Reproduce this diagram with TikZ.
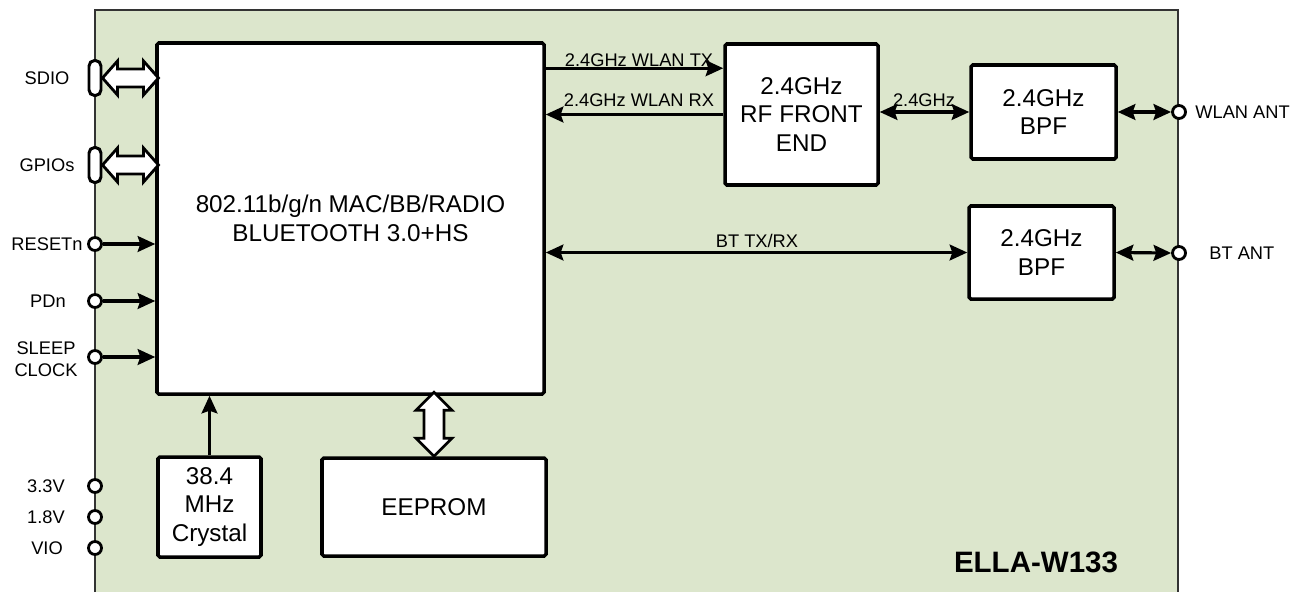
\documentclass[tikz,border=0pt]{standalone}
\usepackage{fontspec}
\setmainfont{Liberation Sans}
\usetikzlibrary{arrows.meta,calc}
\definecolor{modgreen}{HTML}{DCE6CC}
\newcommand{\pxu}{0.02cm}
\begin{document}
\begin{tikzpicture}[x=0.02cm,y=-0.02cm,
  blk/.style={draw, line width=2pt, fill=white, rounded corners=1pt, inner sep=0pt, align=center, font=\fontsize{13.8}{16.3}\selectfont},
  lbl/.style={font=\fontsize{10.4}{12.5}\selectfont, inner sep=0pt, align=center},
  pinc/.style={circle, draw, line width=1.6pt, fill=white, minimum size=13*\pxu, inner sep=0pt},
  pill/.style={rectangle, draw, line width=1.7pt, fill=white, rounded corners=0.11cm, minimum width=12*\pxu, minimum height=35*\pxu, inner sep=0pt},
  sig/.style={line width=1.8pt, -{Stealth[length=10pt,width=9pt,inset=1.5pt]}},
  bsig/.style={line width=1.8pt, {Stealth[length=10pt,width=9pt,inset=1.5pt]}-{Stealth[length=10pt,width=9pt,inset=1.5pt]}},
  harrow/.style={draw, fill=white, line width=1.6pt, line join=miter}
]
\useasboundingbox (0,0) rectangle (1300,592);
\fill[modgreen] (95,10) rectangle (1178,592);
\draw[line width=0.8pt, draw=black!80] (95,592) -- (95,10) -- (1178,10) -- (1178,592);

% blocks
\node[blk, minimum width=387*\pxu, minimum height=351*\pxu] (main) at (350.5,218.5) {802.11b/g/n MAC/BB/RADIO\\BLUETOOTH 3.0+HS};
\node[blk, minimum width=153*\pxu, minimum height=141*\pxu] (rf) at (801.5,114.5) {2.4GHz\\RF FRONT\\END};
\node[blk, minimum width=145*\pxu, minimum height=94*\pxu] (bpf1) at (1043.5,112) {2.4GHz\\BPF};
\node[blk, minimum width=145*\pxu, minimum height=93*\pxu] (bpf2) at (1041.5,252.5) {2.4GHz\\BPF};
\node[blk, minimum width=103*\pxu, minimum height=100*\pxu] (crystal) at (209.5,507) {38.4\\MHz\\Crystal};
\node[blk, minimum width=224*\pxu, minimum height=98*\pxu] (eeprom) at (434,507) {EEPROM};

% pins
\node[pill] (sdio) at (95,78) {};
\node[pill] (gpio) at (95,165) {};
\node[pinc] (reset) at (95,244) {};
\node[pinc] (pdn) at (95,301) {};
\node[pinc] (sleep) at (95,357) {};
\node[pinc] (p33) at (95,486) {};
\node[pinc] (p18) at (95,517) {};
\node[pinc] (vio) at (95,548) {};
\node[pinc] (wlanant) at (1179,112) {};
\node[pinc] (btant) at (1179,253) {};

% pin labels
\node[lbl] at (47,78) {SDIO};
\node[lbl] at (47,165) {GPIOs};
\node[lbl] at (47,244) {RESETn};
\node[lbl] at (48,301) {PDn};
\node[lbl] at (46,359) {SLEEP\\CLOCK};
\node[lbl] at (46,486) {3.3V};
\node[lbl] at (46,517) {1.8V};
\node[lbl] at (47,548) {VIO};
\node[lbl, anchor=west] at (1195,112) {WLAN ANT};
\node[lbl, anchor=west] at (1209,253) {BT ANT};

% hollow bus arrows
\draw[harrow, shift={(sdio.east)}] (0,0) -- (15,-17) -- (15,-9) -- (41,-9) -- (41,-17) -- (56,0) -- (41,17) -- (41,9) -- (15,9) -- (15,17) -- cycle;
\draw[harrow, shift={(gpio.east)}] (0,0) -- (15,-17) -- (15,-9) -- (41,-9) -- (41,-17) -- (56,0) -- (41,17) -- (41,9) -- (15,9) -- (15,17) -- cycle;
\draw[harrow, shift={(eeprom.north)}] (0,0) -- (-18,-18) -- (-10,-18) -- (-10,-46) -- (-18,-46) -- (0,-64) -- (18,-46) -- (10,-46) -- (10,-18) -- (18,-18) -- cycle;

% control inputs
\draw[sig] (reset.east) -- (reset -| main.west);
\draw[sig] (pdn.east) -- (pdn -| main.west);
\draw[sig] (sleep.east) -- (sleep -| main.west);
\draw[sig] (crystal.north) -- (crystal.north |- main.south);

% RF paths
\coordinate (txr) at ($(rf.north west)+(0,26)$);
\draw[sig] (txr -| main.east) -- (txr);
\node[lbl] at (639,60) {2.4GHz WLAN TX};
\draw[sig] (rf.west) -- (rf.west -| main.east);
\node[lbl] at (639,100) {2.4GHz WLAN RX};
\draw[bsig] (rf.east |- bpf1.west) -- (bpf1.west);
\node[lbl] at (924,100) {2.4GHz};
\draw[bsig] (bpf1.east) -- (wlanant.west);
\draw[bsig] (main.east |- bpf2.west) -- (bpf2.west);
\node[lbl] at (757,241) {BT TX/RX};
\draw[bsig] (bpf2.east) -- (btant.west);

\node[font=\fontsize{16.8}{20}\selectfont\bfseries, inner sep=0pt] at (1036,562) {ELLA-W133};
\end{tikzpicture}
\end{document}
